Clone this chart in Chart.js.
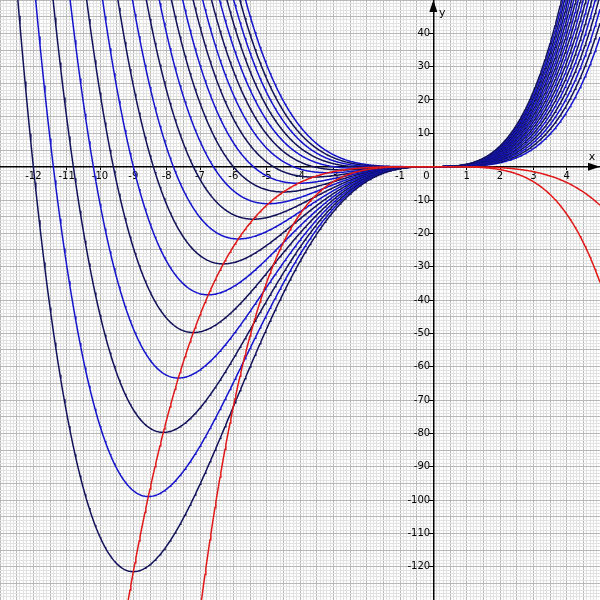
<!DOCTYPE html>
<html>
<head>
<meta charset="utf-8">
<script src="https://cdn.jsdelivr.net/npm/chart.js"></script>
<style>
  html, body { margin: 0; padding: 0; background: #fff; }
</style>
</head>
<body>
<canvas id="plot" width="600" height="600"></canvas>
<script>
// family f_a(x) = (x^4 + a*x^3) / 18, one curve per parameter a
const params = [12, 11.4, 10.8, 10.2, 9.6, 9, 8.4, 7.8, 7.2, 6.6, 6, 5.4, 4.8, 4.2, 3.6, 3, 2.4, 1.8, 1.2, 0.6];
const divisor = 18;
// red loci: minima y = -x^4/54, inflection points y = -x^4/18
const lociDivisors = [54, 18];
const xTickLabels = [-12, -11, -10, -9, -8, -7, -6, -5, -4, -3, -2, -1, 1, 2, 3, 4];
const yTickLabels = [-120, -110, -100, -90, -80, -70, -60, -50, -40, -30, -20, -10, 10, 20, 30, 40];

const xMin = -13, xMax = 5, yMin = -130, yMax = 50;
const sampleStep = 0.025;

const navy = '#12125a';
const blue = '#1414cc';
const red = '#e01818';
const minorGrid = '#e2e2e2';
const majorGrid = '#b8b8b8';
const labelFont = { family: 'DejaVu Sans', size: 10 };

const xs = [];
for (let i = 0; i <= Math.round((xMax - xMin) / sampleStep); i++) {
    xs.push(xMin + i * sampleStep);
}

const datasets = [];
lociDivisors.forEach(function (d) {
    datasets.push({
        data: xs.map(x => ({ x: x, y: -Math.pow(x, 4) / d })),
        borderColor: red,
        borderWidth: 1.5,
        order: 0
    });
});
params.forEach(function (a, i) {
    datasets.push({
        data: xs.map(x => ({ x: x, y: (Math.pow(x, 4) + a * Math.pow(x, 3)) / divisor })),
        borderColor: i % 2 === 0 ? navy : blue,
        borderWidth: 1.5,
        order: 1
    });
});

function near(v, step) {
    return Math.abs(v / step - Math.round(v / step)) < 1e-6;
}

function tickText(list, round, suffix) {
    return function (v) {
        const r = round(v);
        return list.includes(r) ? r + suffix : '';
    };
}
const roundX = v => Math.round(v * 10) / 10;
const roundY = v => Math.round(v);

// axes sit inside the plot, so they should not shrink it
function noPadding(scale) {
    scale.paddingTop = 0;
    scale.paddingBottom = 0;
    scale.paddingLeft = 0;
    scale.paddingRight = 0;
}

const axisDecor = {
    id: 'axisDecor',
    afterDraw(chart) {
        const { ctx, chartArea } = chart;
        const ox = chart.scales.x.getPixelForValue(0);
        const oy = chart.scales.y.getPixelForValue(0);
        ctx.save();
        ctx.fillStyle = '#000';
        ctx.beginPath();
        ctx.moveTo(chartArea.right, oy);
        ctx.lineTo(chartArea.right - 12, oy - 4);
        ctx.lineTo(chartArea.right - 12, oy + 4);
        ctx.closePath();
        ctx.fill();
        ctx.beginPath();
        ctx.moveTo(ox, chartArea.top);
        ctx.lineTo(ox - 4, chartArea.top + 12);
        ctx.lineTo(ox + 4, chartArea.top + 12);
        ctx.closePath();
        ctx.fill();
        ctx.textAlign = 'center';
        ctx.textBaseline = 'middle';
        ctx.font = '10px "DejaVu Sans"';
        ctx.fillText('0', ox - 7, oy + 10);
        ctx.font = '11px "DejaVu Sans"';
        ctx.fillText('x', chartArea.right - 8, oy - 10);
        ctx.fillText('y', ox + 9, chartArea.top + 13);
        ctx.restore();
    }
};

new Chart(document.getElementById('plot'), {
    type: 'scatter',
    data: { datasets: datasets },
    options: {
        responsive: false,
        animation: false,
        events: [],
        layout: { padding: 0, autoPadding: false },
        showLine: true,
        elements: {
            point: { radius: 0 },
            line: { tension: 0, fill: false }
        },
        plugins: {
            legend: { display: false },
            tooltip: { enabled: false }
        },
        scales: {
            x: {
                type: 'linear',
                min: xMin,
                max: xMax,
                position: { y: 0 },
                afterFit: noPadding,
                ticks: {
                    stepSize: 0.1,
                    autoSkip: false,
                    maxRotation: 0,
                    minRotation: 0,
                    padding: 0,
                    color: '#000',
                    font: labelFont,
                    callback: tickText(xTickLabels, roundX, '')
                },
                grid: {
                    color: ctx => near(ctx.tick.value, 0.5) ? majorGrid : minorGrid,
                    lineWidth: 1,
                    tickLength: 4,
                    tickColor: ctx => xTickLabels.includes(roundX(ctx.tick.value)) ? '#000' : 'rgba(0,0,0,0)'
                },
                border: { color: '#000', width: 1.5 }
            },
            y: {
                type: 'linear',
                min: yMin,
                max: yMax,
                position: { x: 0 },
                afterFit: noPadding,
                ticks: {
                    stepSize: 1,
                    autoSkip: false,
                    padding: 0,
                    color: '#000',
                    font: labelFont,
                    callback: tickText(yTickLabels, roundY, ' ')
                },
                grid: {
                    color: ctx => near(ctx.tick.value, 5) ? majorGrid : minorGrid,
                    lineWidth: 1,
                    tickLength: 4,
                    tickColor: ctx => yTickLabels.includes(roundY(ctx.tick.value)) ? '#000' : 'rgba(0,0,0,0)'
                },
                border: { color: '#000', width: 1.5 }
            }
        }
    },
    plugins: [axisDecor]
});
</script>
</body>
</html>
